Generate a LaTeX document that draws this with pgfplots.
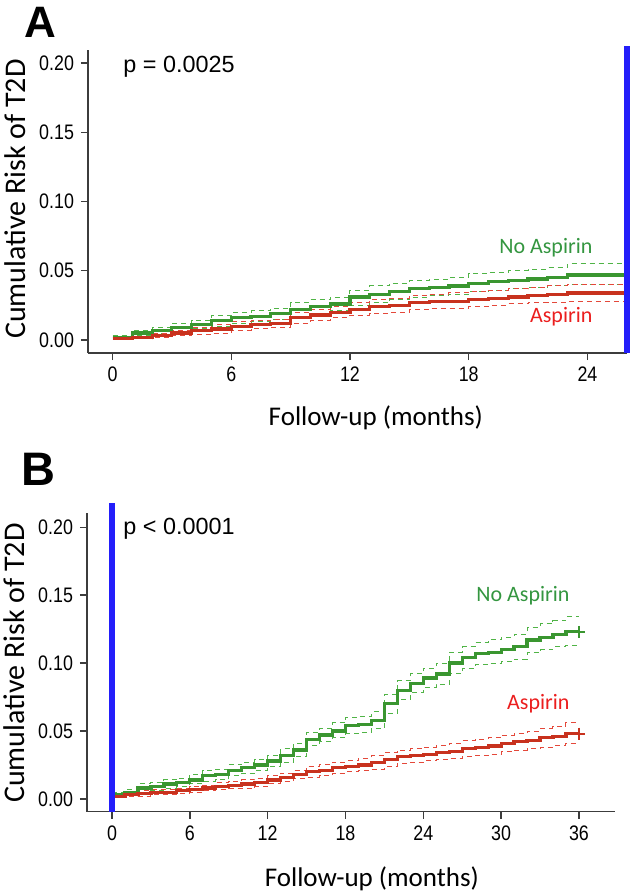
\documentclass[border=0pt]{standalone}
\usepackage{fontspec}
\setmainfont{Carlito}
\newfontfamily\arialfont{Liberation Sans}
\newfontfamily\narrowfont[FakeStretch=0.85]{Liberation Sans}
\usepackage{pgfplots}
\usepackage{pgfplotstable}
\pgfplotsset{compat=1.18}

\definecolor{kmgreen}{RGB}{58,150,48}
\definecolor{kmred}{RGB}{200,50,30}
\definecolor{cigreen}{RGB}{80,180,70}
\definecolor{cired}{RGB}{228,72,58}
\definecolor{labgreen}{RGB}{52,150,64}
\definecolor{labred}{RGB}{235,30,30}
\definecolor{vblue}{RGB}{35,30,250}
\definecolor{axisgray}{RGB}{60,60,60}

% panel A: months, no aspirin (g, upper, lower), aspirin (r, upper, lower)
\pgfplotstableread{
m  g     gu    gl    r     ru    rl
0  0.002 0.003 0.001 0.001 0.002 0.000
1  0.005 0.007 0.003 0.002 0.004 0.001
2  0.007 0.009 0.005 0.003 0.005 0.002
3  0.009 0.012 0.006 0.005 0.007 0.003
4  0.011 0.014 0.008 0.007 0.009 0.004
5  0.014 0.018 0.010 0.008 0.011 0.005
6  0.016 0.020 0.012 0.010 0.013 0.007
7  0.017 0.021 0.013 0.011 0.014 0.008
8  0.019 0.023 0.015 0.012 0.015 0.009
9  0.022 0.027 0.017 0.016 0.020 0.012
10 0.024 0.029 0.019 0.018 0.022 0.014
11 0.026 0.031 0.021 0.020 0.024 0.016
12 0.031 0.036 0.025 0.022 0.027 0.018
13 0.033 0.039 0.027 0.024 0.029 0.019
14 0.035 0.041 0.029 0.025 0.030 0.020
15 0.037 0.043 0.031 0.027 0.032 0.022
16 0.038 0.044 0.032 0.028 0.033 0.023
17 0.039 0.045 0.033 0.028 0.034 0.023
18 0.041 0.048 0.035 0.029 0.035 0.024
19 0.042 0.049 0.036 0.030 0.036 0.025
20 0.043 0.050 0.037 0.031 0.037 0.026
21 0.044 0.051 0.038 0.032 0.038 0.027
22 0.045 0.052 0.039 0.033 0.039 0.027
23 0.047 0.055 0.040 0.034 0.040 0.028
26 0.047 0.055 0.040 0.034 0.040 0.028
}\tableA

% panel B
\pgfplotstableread{
m  g     gu    gl    r     ru    rl
0  0.003 0.005 0.001 0.002 0.003 0.001
1  0.005 0.007 0.003 0.003 0.004 0.002
2  0.008 0.011 0.005 0.004 0.006 0.002
3  0.009 0.012 0.006 0.005 0.007 0.003
4  0.011 0.014 0.008 0.005 0.007 0.003
5  0.012 0.015 0.009 0.006 0.008 0.004
6  0.014 0.018 0.011 0.007 0.009 0.005
7  0.017 0.021 0.013 0.008 0.010 0.006
8  0.018 0.022 0.014 0.009 0.012 0.007
9  0.021 0.025 0.017 0.010 0.013 0.008
10 0.023 0.027 0.019 0.011 0.014 0.008
11 0.025 0.029 0.021 0.012 0.015 0.009
12 0.028 0.032 0.024 0.014 0.017 0.011
13 0.032 0.037 0.027 0.016 0.019 0.013
14 0.036 0.041 0.031 0.018 0.021 0.015
15 0.044 0.049 0.039 0.020 0.024 0.016
16 0.047 0.052 0.042 0.021 0.025 0.017
17 0.050 0.056 0.045 0.023 0.027 0.019
18 0.054 0.060 0.048 0.024 0.028 0.020
19 0.055 0.061 0.049 0.025 0.030 0.021
20 0.058 0.064 0.052 0.027 0.032 0.022
21 0.070 0.077 0.063 0.029 0.034 0.024
22 0.080 0.087 0.073 0.031 0.036 0.026
23 0.085 0.092 0.078 0.032 0.037 0.027
24 0.089 0.096 0.082 0.033 0.038 0.028
25 0.092 0.100 0.084 0.034 0.039 0.029
26 0.100 0.108 0.092 0.035 0.041 0.030
27 0.104 0.112 0.096 0.037 0.043 0.031
28 0.107 0.115 0.099 0.038 0.044 0.032
29 0.108 0.117 0.100 0.039 0.045 0.033
30 0.110 0.119 0.101 0.041 0.047 0.035
31 0.112 0.121 0.103 0.042 0.048 0.036
32 0.117 0.126 0.108 0.043 0.050 0.037
33 0.119 0.129 0.110 0.045 0.052 0.038
34 0.121 0.131 0.112 0.046 0.053 0.039
35 0.123 0.134 0.113 0.048 0.056 0.041
36 0.123 0.134 0.113 0.048 0.056 0.041
}\tableB

\pgfplotsset{
  km/.style={
    scale only axis,
    axis lines*=left,
    axis line style={draw=axisgray, line width=0.7pt, -},
    tick style={draw=axisgray, line width=0.7pt},
    tick align=outside,
    major tick length=3.5pt,
    clip=false,
    ymin=-0.0094,
    ytick={0,0.05,0.10,0.15,0.20},
    /pgf/number format/assume math mode=true,
    yticklabel style={font=\narrowfont\fontsize{10.5}{12}\selectfont,
      /pgf/number format/.cd, fixed, fixed zerofill, precision=2},
    xticklabel style={font=\narrowfont\fontsize{10.5}{12}\selectfont},
    xlabel style={font=\fontsize{13.5}{16}\selectfont, anchor=center},
    ylabel style={font=\fontsize{15}{17}\selectfont, anchor=center},
  },
  main/.style={const plot, line width=1.6pt},
  ci/.style={const plot, line width=0.5pt, dash pattern=on 2.5pt off 2pt},
}

\begin{document}
\begin{tikzpicture}
\useasboundingbox (0pt,0pt) rectangle (316.5pt,-447pt);

\node[anchor=base west, inner sep=0pt, font=\arialfont\bfseries\fontsize{22}{24}\selectfont] at (12pt,-18.5pt) {A};
\node[anchor=base west, inner sep=0pt, font=\arialfont\bfseries\fontsize{23.5}{26}\selectfont] at (10.5pt,-242.5pt) {B};

\begin{axis}[km,
  at={(44pt,-176.5pt)}, anchor=south west,
  width=269.5pt, height=151.5pt,
  xmin=-1.24, xmax=26.0, ymax=0.2094,
  xtick={0,6,12,18,24},
  xlabel={Follow-up (months)},
  ylabel={Cumulative Risk of T2D},
  xlabel style={at={(axis description cs:0.534,-0.215)}},
  ylabel style={at={(axis description cs:-0.135,0.508)}},
]
\addplot[ci, cigreen] table[x=m, y=gu] {\tableA};
\addplot[ci, cigreen] table[x=m, y=gl] {\tableA};
\addplot[ci, cired] table[x=m, y=ru] {\tableA};
\addplot[ci, cired] table[x=m, y=rl] {\tableA};
\addplot[main, kmgreen] table[x=m, y=g] {\tableA};
\addplot[main, kmred] table[x=m, y=r] {\tableA};
\addplot[vblue, line width=3pt] coordinates {(26,-0.0094) (26,0.2123)};
\node[anchor=west, font=\arialfont\fontsize{11.7}{14}\selectfont, inner sep=0pt] at (axis cs:0.53,0.197) {p = 0.0025};
\node[anchor=east, font=\fontsize{11}{13}\selectfont, text=labgreen, inner sep=0pt] at (axis cs:24.27,0.067) {No Aspirin};
\node[anchor=east, font=\fontsize{11}{13}\selectfont, text=labred, inner sep=0pt] at (axis cs:24.27,0.0166) {Aspirin};
\end{axis}

\begin{axis}[km,
  at={(43.5pt,-405.85pt)}, anchor=south west,
  width=263.8pt, height=149.5pt,
  xmin=-1.93, xmax=38.75, ymax=0.2107,
  xtick={0,6,12,18,24,30,36},
  xlabel={Follow-up (months)},
  ylabel={Cumulative Risk of T2D},
  xlabel style={at={(axis description cs:0.540,-0.225)}},
  ylabel style={at={(axis description cs:-0.138,0.497)}},
]
\addplot[ci, cigreen] table[x=m, y=gu] {\tableB};
\addplot[ci, cigreen] table[x=m, y=gl] {\tableB};
\addplot[ci, cired] table[x=m, y=ru] {\tableB};
\addplot[ci, cired] table[x=m, y=rl] {\tableB};
\addplot[main, kmgreen] table[x=m, y=g] {\tableB};
\addplot[main, kmred] table[x=m, y=r] {\tableB};
\addplot[only marks, mark=+, mark size=3pt, kmgreen, line width=0.8pt] coordinates {(36,0.123)};
\addplot[only marks, mark=+, mark size=3pt, kmred, line width=0.8pt] coordinates {(36,0.048)};
\addplot[vblue, line width=3pt] coordinates {(0,-0.0094) (0,0.2178)};
\node[anchor=west, font=\arialfont\fontsize{11.7}{14}\selectfont, inner sep=0pt] at (axis cs:0.85,0.199) {p < 0.0001};
\node[anchor=east, font=\fontsize{11}{13}\selectfont, text=labgreen, inner sep=0pt] at (axis cs:35.3,0.1495) {No Aspirin};
\node[anchor=east, font=\fontsize{11}{13}\selectfont, text=labred, inner sep=0pt] at (axis cs:35.3,0.070) {Aspirin};
\end{axis}
\end{tikzpicture}
\end{document}
